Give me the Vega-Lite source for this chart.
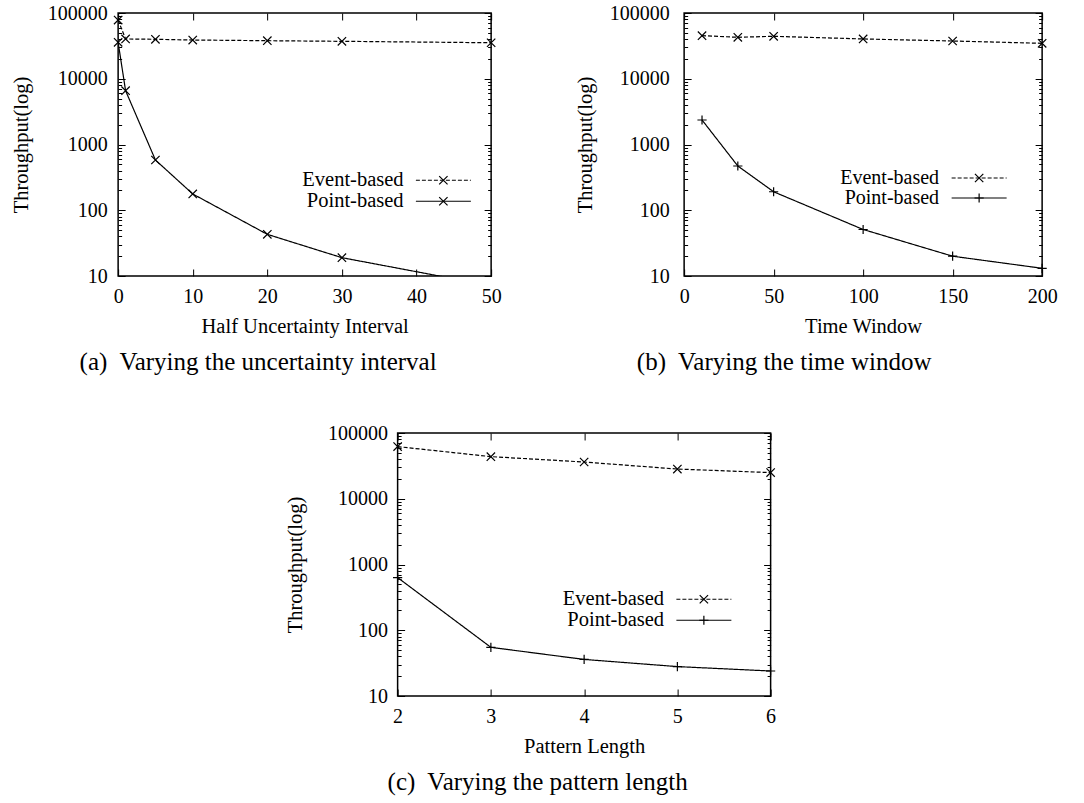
{
  "$schema": "https://vega.github.io/schema/vega-lite/v6.json",
  "padding": {"left": 10, "top": 2, "right": 5, "bottom": 5},
  "background": "white",
  "datasets": {
    "a": [
      {"series": "Event-based", "x": 0, "y": 78000},
      {"series": "Event-based", "x": 1, "y": 40300},
      {"series": "Event-based", "x": 5, "y": 39800},
      {"series": "Event-based", "x": 10, "y": 38800},
      {"series": "Event-based", "x": 20, "y": 37900},
      {"series": "Event-based", "x": 30, "y": 37100},
      {"series": "Event-based", "x": 50, "y": 35300},
      {"series": "Point-based", "x": 0, "y": 35800},
      {"series": "Point-based", "x": 1, "y": 6580},
      {"series": "Point-based", "x": 5, "y": 581},
      {"series": "Point-based", "x": 10, "y": 177},
      {"series": "Point-based", "x": 20, "y": 43},
      {"series": "Point-based", "x": 30, "y": 19},
      {"series": "Point-based", "x": 50, "y": 7.1}
    ],
    "b": [
      {"series": "Event-based", "x": 10, "y": 45200},
      {"series": "Event-based", "x": 30, "y": 42700},
      {"series": "Event-based", "x": 50, "y": 44200},
      {"series": "Event-based", "x": 100, "y": 40300},
      {"series": "Event-based", "x": 150, "y": 37500},
      {"series": "Event-based", "x": 200, "y": 34600},
      {"series": "Point-based", "x": 10, "y": 2360},
      {"series": "Point-based", "x": 30, "y": 471},
      {"series": "Point-based", "x": 50, "y": 191},
      {"series": "Point-based", "x": 100, "y": 51},
      {"series": "Point-based", "x": 150, "y": 20},
      {"series": "Point-based", "x": 200, "y": 13.1}
    ],
    "c": [
      {"series": "Event-based", "x": 2, "y": 62100},
      {"series": "Event-based", "x": 3, "y": 43700},
      {"series": "Event-based", "x": 4, "y": 36200},
      {"series": "Event-based", "x": 5, "y": 28300},
      {"series": "Event-based", "x": 6, "y": 25000},
      {"series": "Point-based", "x": 2, "y": 632},
      {"series": "Point-based", "x": 3, "y": 55},
      {"series": "Point-based", "x": 4, "y": 36},
      {"series": "Point-based", "x": 5, "y": 28},
      {"series": "Point-based", "x": 6, "y": 24}
    ]
  },
  "vconcat": [
    {
      "hconcat": [
        {
          "width": 373, "height": 263,
          "data": {"name": "a"},
          "title": {"text": "(a)\u00a0 Varying the uncertainty interval", "orient": "bottom", "anchor": "middle", "frame": "bounds", "fontSize": 25, "fontWeight": "normal", "font": "Liberation Serif", "offset": 13, "dx": 2},
          "layer": [
            {
              "mark": {"type": "line", "clip": true, "color": "black", "strokeWidth": 1.2},
              "encoding": {
                "x": {"field": "x", "type": "quantitative", "scale": {"domain": [0, 50], "nice": false, "zero": false},
                      "axis": {"values": [0, 10, 20, 30, 40, 50], "title": "Half Uncertainty Interval", "tickSize": -7, "labelPadding": 17, "titlePadding": 10}},
                "y": {"field": "y", "type": "quantitative", "scale": {"type": "log", "domain": [10, 100000], "nice": false},
                      "axis": {"values": [10, 100, 1000, 10000, 100000], "format": "d", "title": "Throughput(log)", "tickSize": -7, "labelPadding": 18, "titlePadding": 16}},
                "strokeDash": {"field": "series", "type": "nominal", "scale": {"domain": ["Event-based", "Point-based"], "range": [[4, 2], [1, 0]]},
                      "legend": {"orient": "none", "legendX": 315, "legendY": 157, "title": null, "padding": 0, "rowPadding": 0, "symbolType": "M-6,0L6,0", "symbolSize": 84, "symbolStrokeColor": "black", "symbolStrokeWidth": 1.2, "labelAlign": "right", "labelOffset": -50, "labelFont": "Liberation Serif", "labelFontSize": 20.5, "labelColor": "black"}}
              }
            },
            {
              "transform": [{"filter": "datum.y >= 10"}],
              "mark": {"type": "point", "filled": false, "color": "black", "strokeWidth": 1.2, "size": 70, "opacity": 1},
              "encoding": {
                "x": {"field": "x", "type": "quantitative", "axis": null},
                "y": {"field": "y", "type": "quantitative", "axis": {"orient": "left", "values": [20,30,40,50,60,70,80,90,200,300,400,500,600,700,800,900,2000,3000,4000,5000,6000,7000,8000,9000,20000,30000,40000,50000,60000,70000,80000,90000], "labels": false, "title": null, "tickSize": -3.5}},
                "shape": {"field": "series", "type": "nominal", "scale": {"range": ["M-1,-1L1,1M-1,1L1,-1", "M-1,-1L1,1M-1,1L1,-1"]},
                      "legend": {"orient": "none", "legendX": 315, "legendY": 157, "title": null, "padding": 0, "rowPadding": 0, "symbolSize": 70, "symbolStrokeColor": "black", "symbolStrokeWidth": 1.2, "labelOpacity": 0, "labelAlign": "right", "labelOffset": -50, "labelFont": "Liberation Serif", "labelFontSize": 20.5}}
              }
            },
            {
              "mark": {"type": "point", "opacity": 0},
              "encoding": {
                "x": {"field": "x", "type": "quantitative", "axis": {"orient": "top", "values": [0, 10, 20, 30, 40, 50], "labels": false, "title": null, "tickSize": -7}},
                "y": {"field": "y", "type": "quantitative", "axis": {"orient": "right", "values": [10, 100, 1000, 10000, 100000], "labels": false, "title": null, "tickSize": -7}}
              }
            },
            {
              "mark": {"type": "point", "opacity": 0},
              "encoding": {
                "x": {"field": "x", "type": "quantitative", "axis": null},
                "y": {"field": "y", "type": "quantitative", "axis": {"orient": "right", "values": [20,30,40,50,60,70,80,90,200,300,400,500,600,700,800,900,2000,3000,4000,5000,6000,7000,8000,9000,20000,30000,40000,50000,60000,70000,80000,90000], "labels": false, "title": null, "tickSize": -3.5}}
              }
            }
          ],
          "resolve": {"axis": {"x": "independent", "y": "independent"}}
        },
        {
          "width": 358, "height": 263,
          "data": {"name": "b"},
          "title": {"text": "(b)\u00a0 Varying the time window", "orient": "bottom", "anchor": "middle", "frame": "bounds", "fontSize": 25, "fontWeight": "normal", "font": "Liberation Serif", "offset": 13, "dx": -32},
          "layer": [
            {
              "mark": {"type": "line", "clip": true, "color": "black", "strokeWidth": 1.2},
              "encoding": {
                "x": {"field": "x", "type": "quantitative", "scale": {"domain": [0, 200], "nice": false, "zero": false},
                      "axis": {"values": [0, 50, 100, 150, 200], "title": "Time Window", "tickSize": -7, "labelPadding": 17, "titlePadding": 10}},
                "y": {"field": "y", "type": "quantitative", "scale": {"type": "log", "domain": [10, 100000], "nice": false},
                      "axis": {"values": [10, 100, 1000, 10000, 100000], "format": "d", "title": "Throughput(log)", "tickSize": -7, "labelPadding": 22, "titlePadding": 14}},
                "strokeDash": {"field": "series", "type": "nominal", "scale": {"domain": ["Event-based", "Point-based"], "range": [[4, 2], [1, 0]]},
                      "legend": {"orient": "none", "legendX": 285, "legendY": 155, "title": null, "padding": 0, "rowPadding": 0, "symbolType": "M-6,0L6,0", "symbolSize": 84, "symbolStrokeColor": "black", "symbolStrokeWidth": 1.2, "labelAlign": "right", "labelOffset": -50, "labelFont": "Liberation Serif", "labelFontSize": 20, "labelColor": "black"}}
              }
            },
            {
              "mark": {"type": "point", "filled": false, "color": "black", "strokeWidth": 1.2, "size": 70, "opacity": 1},
              "encoding": {
                "x": {"field": "x", "type": "quantitative", "axis": null},
                "y": {"field": "y", "type": "quantitative", "axis": {"orient": "left", "values": [20,30,40,50,60,70,80,90,200,300,400,500,600,700,800,900,2000,3000,4000,5000,6000,7000,8000,9000,20000,30000,40000,50000,60000,70000,80000,90000], "labels": false, "title": null, "tickSize": -3.5}},
                "shape": {"field": "series", "type": "nominal", "scale": {"range": ["M-1,-1L1,1M-1,1L1,-1", "M-1.1,0L1.1,0M0,-1.1L0,1.1"]},
                      "legend": {"orient": "none", "legendX": 285, "legendY": 155, "title": null, "padding": 0, "rowPadding": 0, "symbolSize": 70, "symbolStrokeColor": "black", "symbolStrokeWidth": 1.2, "labelOpacity": 0, "labelAlign": "right", "labelOffset": -50, "labelFont": "Liberation Serif", "labelFontSize": 20}}
              }
            },
            {
              "mark": {"type": "point", "opacity": 0},
              "encoding": {
                "x": {"field": "x", "type": "quantitative", "axis": {"orient": "top", "values": [0, 50, 100, 150, 200], "labels": false, "title": null, "tickSize": -7}},
                "y": {"field": "y", "type": "quantitative", "axis": {"orient": "right", "values": [10, 100, 1000, 10000, 100000], "labels": false, "title": null, "tickSize": -7}}
              }
            },
            {
              "mark": {"type": "point", "opacity": 0},
              "encoding": {
                "x": {"field": "x", "type": "quantitative", "axis": null},
                "y": {"field": "y", "type": "quantitative", "axis": {"orient": "right", "values": [20,30,40,50,60,70,80,90,200,300,400,500,600,700,800,900,2000,3000,4000,5000,6000,7000,8000,9000,20000,30000,40000,50000,60000,70000,80000,90000], "labels": false, "title": null, "tickSize": -3.5}}
              }
            }
          ],
          "resolve": {"axis": {"x": "independent", "y": "independent"}}
        }
      ],
      "spacing": 72,
      "resolve": {"scale": {"shape": "independent", "strokeDash": "independent"}, "legend": {"shape": "independent", "strokeDash": "independent"}}
    },
    {
      "width": 373, "height": 263,
      "data": {"name": "c"},
      "title": {"text": "(c)\u00a0 Varying the pattern length", "orient": "bottom", "anchor": "middle", "frame": "bounds", "fontSize": 25, "fontWeight": "normal", "font": "Liberation Serif", "offset": 13, "dx": 6},
      "layer": [
        {
          "mark": {"type": "line", "clip": true, "color": "black", "strokeWidth": 1.2},
          "encoding": {
            "x": {"field": "x", "type": "quantitative", "scale": {"domain": [2, 6], "nice": false, "zero": false},
                  "axis": {"values": [2, 3, 4, 5, 6], "title": "Pattern Length", "tickSize": -7, "labelPadding": 17, "titlePadding": 10}},
            "y": {"field": "y", "type": "quantitative", "scale": {"type": "log", "domain": [10, 100000], "nice": false},
                  "axis": {"values": [10, 100, 1000, 10000, 100000], "format": "d", "title": "Throughput(log)", "tickSize": -7, "labelPadding": 17, "titlePadding": 22}},
            "strokeDash": {"field": "series", "type": "nominal", "scale": {"domain": ["Event-based", "Point-based"], "range": [[4, 2], [1, 0]]},
                  "legend": {"orient": "none", "legendX": 296, "legendY": 156, "title": null, "padding": 0, "rowPadding": 0, "symbolType": "M-6,0L6,0", "symbolSize": 84, "symbolStrokeColor": "black", "symbolStrokeWidth": 1.2, "labelAlign": "right", "labelOffset": -50, "labelFont": "Liberation Serif", "labelFontSize": 20.5, "labelColor": "black"}}
          }
        },
        {
          "mark": {"type": "point", "filled": false, "color": "black", "strokeWidth": 1.2, "size": 70, "opacity": 1},
          "encoding": {
            "x": {"field": "x", "type": "quantitative", "axis": null},
            "y": {"field": "y", "type": "quantitative", "axis": {"orient": "left", "values": [20,30,40,50,60,70,80,90,200,300,400,500,600,700,800,900,2000,3000,4000,5000,6000,7000,8000,9000,20000,30000,40000,50000,60000,70000,80000,90000], "labels": false, "title": null, "tickSize": -3.5}},
            "shape": {"field": "series", "type": "nominal", "scale": {"range": ["M-1,-1L1,1M-1,1L1,-1", "M-1.1,0L1.1,0M0,-1.1L0,1.1"]},
                  "legend": {"orient": "none", "legendX": 296, "legendY": 156, "title": null, "padding": 0, "rowPadding": 0, "symbolSize": 70, "symbolStrokeColor": "black", "symbolStrokeWidth": 1.2, "labelOpacity": 0, "labelAlign": "right", "labelOffset": -50, "labelFont": "Liberation Serif", "labelFontSize": 20.5}}
          }
        },
        {
          "mark": {"type": "point", "opacity": 0},
          "encoding": {
            "x": {"field": "x", "type": "quantitative", "axis": {"orient": "top", "values": [2, 3, 4, 5, 6], "labels": false, "title": null, "tickSize": -7}},
            "y": {"field": "y", "type": "quantitative", "axis": {"orient": "right", "values": [10, 100, 1000, 10000, 100000], "labels": false, "title": null, "tickSize": -7}}
          }
        },
        {
          "mark": {"type": "point", "opacity": 0},
          "encoding": {
            "x": {"field": "x", "type": "quantitative", "axis": null},
            "y": {"field": "y", "type": "quantitative", "axis": {"orient": "right", "values": [20,30,40,50,60,70,80,90,200,300,400,500,600,700,800,900,2000,3000,4000,5000,6000,7000,8000,9000,20000,30000,40000,50000,60000,70000,80000,90000], "labels": false, "title": null, "tickSize": -3.5}}
          }
        }
      ],
      "resolve": {"axis": {"x": "independent", "y": "independent"}}
    }
  ],
  "spacing": 46,
  "center": true,
  "resolve": {"scale": {"shape": "independent", "strokeDash": "independent"}, "legend": {"shape": "independent", "strokeDash": "independent"}},
  "config": {
    "font": "Liberation Serif",
    "view": {"stroke": "black", "strokeWidth": 1.5},
    "axis": {"grid": false, "domain": false, "tickColor": "black", "tickWidth": 1, "labelFont": "Liberation Serif", "labelFontSize": 20, "labelColor": "black", "titleFont": "Liberation Serif", "titleFontSize": 20.5, "titleFontWeight": "normal", "titleColor": "black", "labelFlush": false, "labelOverlap": false},
    "title": {"color": "black"}
  }
}
